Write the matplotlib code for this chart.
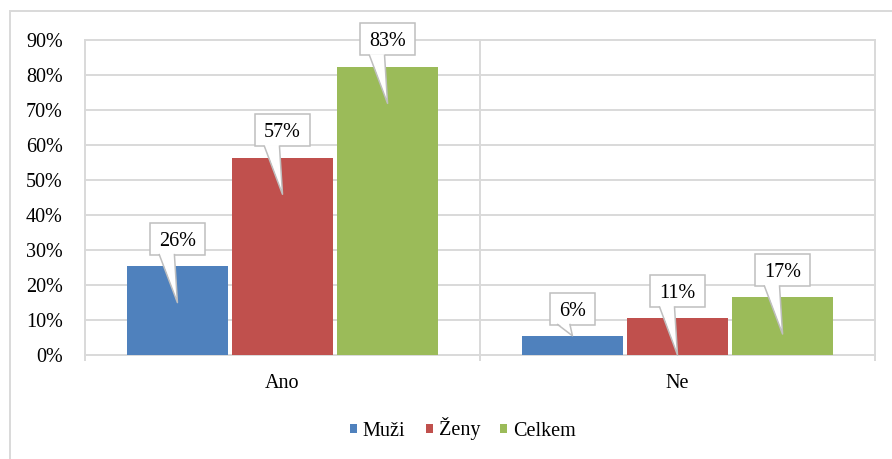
import numpy as np
import matplotlib.pyplot as plt
from matplotlib.patches import Rectangle, Polygon
from matplotlib.lines import Line2D
from matplotlib.transforms import IdentityTransform

plt.rcParams['font.family'] = ['Liberation Serif', 'DejaVu Serif']

kategorie = ["Ano", "Ne"]
serie = ["Muži", "Ženy", "Celkem"]
muzi = [25.5, 5.5]
zeny = [56.5, 10.5]
celkem = [82.5, 16.5]
popisky_muzi = ["26%", "6%"]
popisky_zeny = ["57%", "11%"]
popisky_celkem = ["83%", "17%"]
y_ticks = [0, 10, 20, 30, 40, 50, 60, 70, 80, 90]

barvy = ["#4F81BD", "#C0504D", "#9BBB59"]
seda = "#d9d9d9"
okraj = "#bfbfbf"
fs = 14.5

fig = plt.figure(figsize=(8.92, 4.59), dpi=100)
ax = fig.add_axes([85/892, (459-355)/459, (875-85)/892, (355-40.5)/459])

x = np.arange(len(kategorie))
sirka = 0.255
krok = 0.266
hodnoty = [muzi, zeny, celkem]
popisky = [popisky_muzi, popisky_zeny, popisky_celkem]

sloupce = []
for i in range(3):
    b = ax.bar(x + (i-1)*krok, hodnoty[i], sirka, color=barvy[i], label=serie[i],
               linewidth=0, zorder=3)
    sloupce.append(b)

ax.set_xlim(-0.5, 1.5)
ax.set_ylim(0, 90)
ax.set_yticks(y_ticks)
ax.set_yticklabels([str(t) + "%" for t in y_ticks], fontsize=fs)
ax.set_xticks(x)
ax.set_xticklabels(kategorie, fontsize=fs)
ax.set_xticks([-0.5, 0.5, 1.5], minor=True)
ax.tick_params(axis='y', length=0, pad=16)
ax.tick_params(axis='x', which='major', length=0, pad=14)
ax.tick_params(axis='x', which='minor', length=4.5, width=1.4, color=seda)
for s in ax.spines.values():
    s.set_visible(False)
ax.grid(axis='y', color=seda, linewidth=1.4, zorder=0)
ax.grid(axis='x', which='minor', color=seda, linewidth=1.4, zorder=0)
ax.set_axisbelow(True)
for tk in ax.yaxis.get_major_ticks() + ax.xaxis.get_minor_ticks():
    tk.gridline.set_clip_on(False)

# popisky jako bubliny (callout)
renderer = fig.canvas.get_renderer()
ident = IdentityTransform()
for i in range(3):
    for j in range(len(kategorie)):
        cx = x[j] + (i-1)*krok
        v = hodnoty[i][j]
        tip = v - 10.5 if v > 10 else v
        t = ax.text(cx, v + 7.8, popisky[i][j], ha='center', va='center_baseline',
                    fontsize=fs, zorder=8)
        ext = t.get_window_extent(renderer)
        w = ext.width + 18
        h = 32
        bx, by = ax.transData.transform((cx, v + 7.8))
        tx, ty = ax.transData.transform((cx, tip))
        ax.add_patch(Rectangle((bx - w/2, by - h/2), w, h, transform=ident,
                               facecolor='white', edgecolor=okraj, linewidth=1.1,
                               zorder=5, clip_on=False))
        l = bx - w*0.33
        r = bx - w*0.055
        ax.add_patch(Polygon([(l, by - h/2 + 1.3), (tx, ty), (r, by - h/2 + 1.3)],
                             closed=True, transform=ident, facecolor='white',
                             edgecolor='none', zorder=6, clip_on=False))
        ax.add_line(Line2D([l, tx, r], [by - h/2, ty, by - h/2], transform=ident,
                           color=okraj, linewidth=1.1, zorder=6, clip_on=False))

leg = ax.legend(handles=sloupce, loc='center', bbox_to_anchor=(463/892, 30/459),
                bbox_transform=fig.transFigure, ncol=3, frameon=False, fontsize=fs,
                handlelength=0.35, handleheight=0.35, handletextpad=0.3,
                columnspacing=1.0)

# ramecek grafu
fig.add_artist(Rectangle((10/892, -0.1), 1.2, (459-11)/459 + 0.1,
                         transform=fig.transFigure, fill=False, edgecolor=seda,
                         linewidth=1.4))

fig.savefig("out.png", dpi=100)
